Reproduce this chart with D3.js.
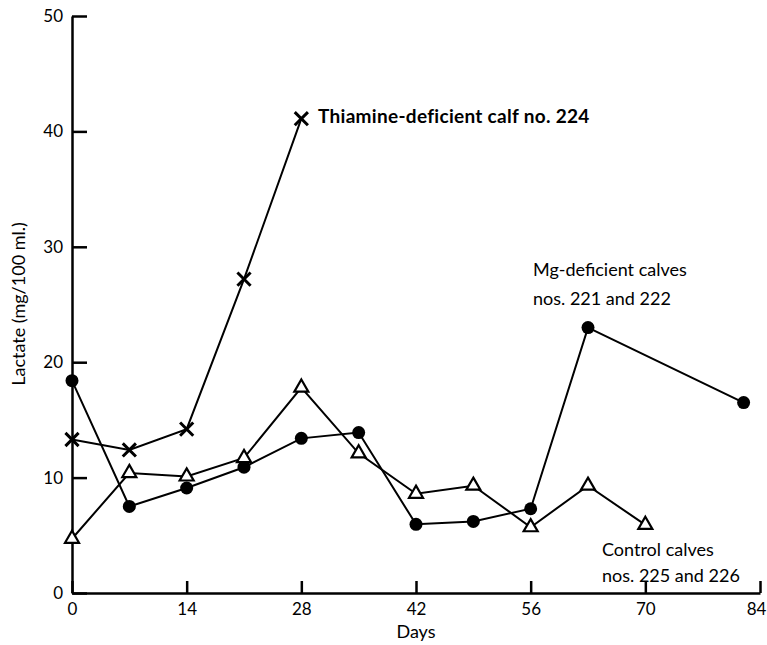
<!DOCTYPE html>
<html>
<head>
<meta charset="utf-8">
<script src="https://cdn.jsdelivr.net/npm/d3@7"></script>
<style>
  body { margin: 0; background: #fff; }
  svg { display: block; font-family: Lato, "Open Sans", sans-serif; }
  .axis path, .axis line { stroke: #000; stroke-width: 2.5; }
  .axis text { font-size: 17px; fill: #000; }
  .line { fill: none; stroke: #000; stroke-width: 2; }
</style>
</head>
<body>
<div id="chart"></div>
<script>
// days on x, lactate (mg/100 ml.) on y
const xTicks = [0, 14, 28, 42, 56, 70, 84]
const yTicks = [0, 10, 20, 30, 40, 50]

// thiamine-deficient calf no. 224 (crosses)
const thiamineDays = [0, 7, 14, 21, 28]
const thiamineVals = [13.3, 12.4, 14.2, 27.2, 41.1]

// Mg-deficient calves nos. 221 and 222 (filled circles)
const mgDays = [0, 7, 14, 21, 28, 35, 42, 49, 56, 63, 82]
const mgVals = [18.4, 7.5, 9.1, 10.9, 13.4, 13.9, 5.95, 6.2, 7.3, 23.0, 16.5]

// control calves nos. 225 and 226 (open triangles)
const controlDays = [0, 7, 14, 21, 28, 35, 42, 49, 56, 63, 70]
const controlVals = [4.7, 10.4, 10.1, 11.7, 17.8, 12.1, 8.6, 9.3, 5.7, 9.3, 5.9]

const W = 767, H = 645
const svg = d3.select('#chart').append('svg')
  .attr('width', W)
  .attr('height', H)

const x = d3.scaleLinear().domain([0, 84]).range([72, 760])
const y = d3.scaleLinear().domain([0, 50]).range([593, 16])

// axes, ticks point inwards
const xAxis = svg.append('g')
  .attr('class', 'axis')
  .attr('transform', 'translate(0,' + y(0) + ')')
  .call(d3.axisBottom(x).tickValues(xTicks).tickSizeInner(-12).tickSizeOuter(0).tickPadding(10))

// last label sits against the right edge
xAxis.selectAll('.tick text').filter(d => d === 84).attr('dx', -4)

svg.append('g')
  .attr('class', 'axis')
  .attr('transform', 'translate(' + x(0) + ',0)')
  .call(d3.axisLeft(y).tickValues(yTicks).tickSizeInner(-15).tickSizeOuter(0).tickPadding(9))

svg.selectAll('.axis text').attr('font-family', 'Lato, sans-serif')

// axis titles
svg.append('text')
  .attr('x', 416)
  .attr('y', 638)
  .attr('text-anchor', 'middle')
  .attr('font-size', 18)
  .text('Days')

svg.append('text')
  .attr('transform', 'translate(25,304) rotate(-90)')
  .attr('text-anchor', 'middle')
  .attr('font-size', 18)
  .text('Lactate (mg/100 ml.)')

function pairs(days, vals) {
  return days.map((d, i) => [d, vals[i]])
}

const line = d3.line()
  .x(d => x(d[0]))
  .y(d => y(d[1]))

const thiamine = pairs(thiamineDays, thiamineVals)
const mg = pairs(mgDays, mgVals)
const control = pairs(controlDays, controlVals)

// lines first
;[thiamine, mg, control].forEach(data => {
  svg.append('path')
    .datum(data)
    .attr('class', 'line')
    .attr('d', line)
})

// crosses
svg.selectAll('.cross')
  .data(thiamine)
  .enter().append('path')
  .attr('class', 'cross')
  .attr('transform', d => 'translate(' + x(d[0]) + ',' + y(d[1]) + ')')
  .attr('d', d3.symbol().type(d3.symbolTimes).size(115))
  .attr('fill', 'none')
  .attr('stroke', '#000')
  .attr('stroke-width', 3)

// circles
svg.selectAll('.dot')
  .data(mg)
  .enter().append('circle')
  .attr('class', 'dot')
  .attr('cx', d => x(d[0]))
  .attr('cy', d => y(d[1]))
  .attr('r', 6.5)
  .attr('fill', '#000')

// triangles
svg.selectAll('.tri')
  .data(control)
  .enter().append('path')
  .attr('class', 'tri')
  .attr('transform', d => 'translate(' + x(d[0]) + ',' + y(d[1]) + ')')
  .attr('d', d3.symbol().type(d3.symbolTriangle).size(85))
  .attr('fill', '#fff')
  .attr('stroke', '#000')
  .attr('stroke-width', 2.2)

// series labels
svg.append('text')
  .attr('x', 318)
  .attr('y', 123)
  .attr('font-size', 19)
  .attr('font-weight', 'bold')
  .attr('letter-spacing', 0.3)
  .text('Thiamine-deficient calf no. 224')

const mgLab = svg.append('text').attr('font-size', 18)
mgLab.append('tspan').attr('x', 533).attr('y', 276).text('Mg-deficient calves')
mgLab.append('tspan').attr('x', 533).attr('y', 305).text('nos. 221 and 222')

const ctlLab = svg.append('text').attr('font-size', 18)
ctlLab.append('tspan').attr('x', 602).attr('y', 556).text('Control calves')
ctlLab.append('tspan').attr('x', 602).attr('y', 582).text('nos. 225 and 226')
</script>
</body>
</html>
